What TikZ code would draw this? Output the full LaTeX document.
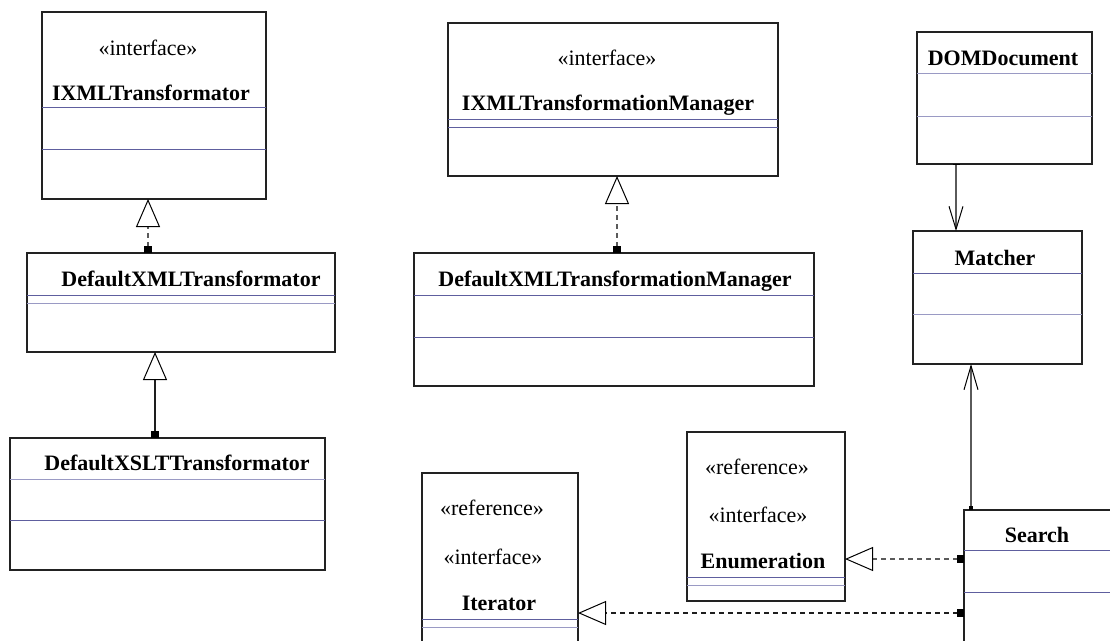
\documentclass[tikz,border=0pt]{standalone}
\usepackage{fontspec}
\setmainfont{Liberation Serif}
\usetikzlibrary{arrows.meta}

\definecolor{boxline}{HTML}{222222}
\definecolor{divline}{HTML}{5E5E9E}
\definecolor{divfaint}{HTML}{9A9AC4}
\definecolor{linkgray}{HTML}{5A5A5A}
\definecolor{linkdark}{HTML}{1E1E1E}

\tikzset{
  cls/.style={draw=boxline, line width=1.1pt, fill=white, inner sep=0pt,
              outer sep=0pt, anchor=north west},
  divider/.style={draw=divline, line width=1pt},
  faintdivider/.style={draw=divfaint, line width=1pt},
  lbl/.style={anchor=base, inner sep=0pt, font=\fontsize{22}{26}\selectfont},
  clsname/.style={lbl, font=\fontsize{22}{26}\selectfont\bfseries},
  conn/.style={draw=linkgray, line width=1.1pt},
  dashes/.style={dash pattern=on 5pt off 4pt},
  inherit/.style={conn, {Square[length=7pt,width=8pt,color=black]}-{Triangle[open,length=28pt,width=24pt,color=black,line width=1pt]}},
  realize/.style={inherit, dashes},
  assoc/.style={conn},
}

\begin{document}
\begin{tikzpicture}[x=1pt, y=-1pt]
\useasboundingbox (0,0) rectangle (1110,640);
\clip (0,0) rectangle (1110,640);

% ---- IXMLTransformator
\node[cls, minimum width=224pt, minimum height=187pt] (ixt) at (42,12) {};
\draw[divider] (ixt.west |- 0,107) -- (ixt.east |- 0,107);
\draw[divider] (ixt.west |- 0,149) -- (ixt.east |- 0,149);
\node[lbl] (ixt-st) at (148,55) {«interface»};
\node[clsname] (ixt-n) at (151,100) {IXMLTransformator};

% ---- DefaultXMLTransformator
\node[cls, minimum width=308pt, minimum height=99pt] (dxt) at (27,253) {};
\draw[divider] (dxt.west |- 0,295) -- (dxt.east |- 0,295);
\draw[faintdivider] (dxt.west |- 0,303) -- (dxt.east |- 0,303);
\node[clsname] (dxt-n) at (191,286) {DefaultXMLTransformator};

% ---- DefaultXSLTTransformator
\node[cls, minimum width=315pt, minimum height=132pt] (dxslt) at (10,438) {};
\draw[faintdivider] (dxslt.west |- 0,479) -- (dxslt.east |- 0,479);
\draw[divider] (dxslt.west |- 0,520) -- (dxslt.east |- 0,520);
\node[clsname] (dxslt-n) at (177,470) {DefaultXSLTTransformator};

% ---- IXMLTransformationManager
\node[cls, minimum width=330pt, minimum height=153pt] (ixtm) at (448,23) {};
\draw[divider] (ixtm.west |- 0,119) -- (ixtm.east |- 0,119);
\draw[divider] (ixtm.west |- 0,127) -- (ixtm.east |- 0,127);
\node[lbl] (ixtm-st) at (607,65) {«interface»};
\node[clsname] (ixtm-n) at (608,110) {IXMLTransformationManager};

% ---- DefaultXMLTransformationManager
\node[cls, minimum width=400pt, minimum height=133pt] (dxtm) at (414,253) {};
\draw[divider] (dxtm.west |- 0,295) -- (dxtm.east |- 0,295);
\draw[divider] (dxtm.west |- 0,337) -- (dxtm.east |- 0,337);
\node[clsname] (dxtm-n) at (615,286) {DefaultXMLTransformationManager};

% ---- DOMDocument
\node[cls, minimum width=175pt, minimum height=132pt] (dom) at (917,32) {};
\draw[faintdivider] (dom.west |- 0,73) -- (dom.east |- 0,73);
\draw[faintdivider] (dom.west |- 0,116) -- (dom.east |- 0,116);
\node[clsname] (dom-n) at (1003,65) {DOMDocument};

% ---- Matcher
\node[cls, minimum width=169pt, minimum height=133pt] (matcher) at (913,231) {};
\draw[divider] (matcher.west |- 0,273) -- (matcher.east |- 0,273);
\draw[faintdivider] (matcher.west |- 0,314) -- (matcher.east |- 0,314);
\node[clsname] (matcher-n) at (995,265) {Matcher};

% ---- Search
\node[cls, minimum width=160pt, minimum height=150pt] (search) at (964,510) {};
\draw[divider] (search.west |- 0,550) -- (search.east |- 0,550);
\draw[divider] (search.west |- 0,592) -- (search.east |- 0,592);
\node[clsname] (search-n) at (1037,542) {Search};

% ---- Enumeration
\node[cls, minimum width=158pt, minimum height=169pt] (enum) at (687,432) {};
\draw[divider] (enum.west |- 0,577) -- (enum.east |- 0,577);
\draw[faintdivider] (enum.west |- 0,585) -- (enum.east |- 0,585);
\node[lbl] (enum-st1) at (757,474) {«reference»};
\node[lbl] (enum-st2) at (758,522) {«interface»};
\node[clsname] (enum-n) at (763,568) {Enumeration};

% ---- Iterator
\node[cls, minimum width=156pt, minimum height=190pt] (iter) at (422,473) {};
\draw[divider] (iter.west |- 0,619) -- (iter.east |- 0,619);
\draw[faintdivider] (iter.west |- 0,627) -- (iter.east |- 0,627);
\node[lbl] (iter-st1) at (492,515) {«reference»};
\node[lbl] (iter-st2) at (493,564) {«interface»};
\node[clsname] (iter-n) at (499,610) {Iterator};

% ---- connector tracks
\coordinate (t1) at (148,0);
\coordinate (t2) at (155,0);
\coordinate (t3) at (617,0);
\coordinate (t4) at (956,0);
\coordinate (t5) at (971,0);
\coordinate (r1) at (0,559);
\coordinate (r2) at (0,613);

% ---- connectors
\draw[realize] (dxt.north -| t1) -- (ixt.south -| t1);
\draw[inherit, draw=linkdark] (dxslt.north -| t2) -- (dxt.south -| t2);
\draw[realize] (dxtm.north -| t3) -- (ixtm.south -| t3);
\draw[assoc, {Bar[width=7pt,color=black]}-{Straight Barb[length=23pt,width=14pt,color=black,line width=1pt]}]
  (dom.south -| t4) -- (matcher.north -| t4);
\draw[assoc, {Square[length=4pt,width=4pt,color=black]}-{Straight Barb[length=24pt,width=14pt,color=black,line width=1pt]}]
  (search.north -| t5) -- (matcher.south -| t5);
\draw[realize] (search.west |- r1) -- (enum.east |- r1);
\draw[realize, draw=linkdark] (search.west |- r2) -- (iter.east |- r2);
\end{tikzpicture}
\end{document}
